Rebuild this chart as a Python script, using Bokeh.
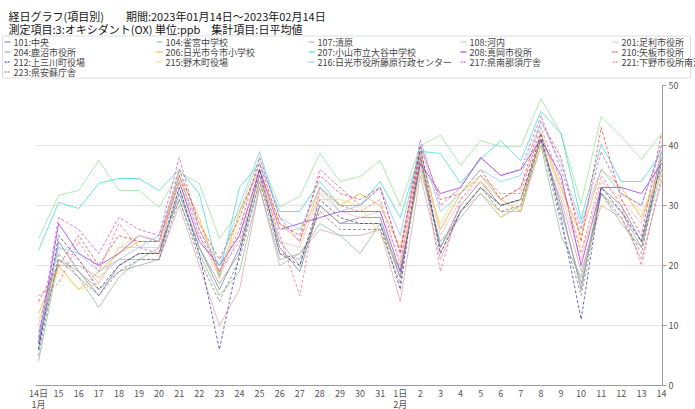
from bokeh.plotting import figure
from bokeh.models import FixedTicker, Range1d
from bokeh.core.properties import value
from bokeh.embed import file_html
from bokeh.resources import INLINE

FONT = "Noto Sans CJK JP"

# ---- data -------------------------------------------------------------
day_labels = ["14日\n1月", "15", "16", "17", "18", "19", "20", "21", "22", "23",
              "24", "25", "26", "27", "28", "29", "30", "31", "1日\n2月", "2",
              "3", "4", "5", "6", "7", "8", "9", "10", "11", "12", "13", "14"]

y_ticks = [0, 10, 20, 30, 40, 50]
grid_ticks = [10, 20, 30, 40]

station_names = ["101:中央", "104:雀宮中学校", "107:清原", "108:河内", "201:足利市役所",
                 "204:鹿沼市役所", "206:日光市今市小学校", "207:小山市立大谷中学校", "208:真岡市役所", "210:矢板市役所",
                 "212:上三川町役場", "215:野木町役場", "216:日光市役所藤原行政センター", "217:県南那須庁舎", "221:下野市役所南河内",
                 "223:県安蘇庁舎"]

s101 = [6, 24, 19, 15, 20, 22, 22, 32, 23, 16, 23, 35, 23, 19, 30, 27, 28, 28, 18, 38, 23, 30, 34, 30, 31, 41, 30, 16, 33, 30, 24, 39]
s104 = [4, 21, 18, 13, 18, 21, 23, 31, 22, 15, 19, 33, 21, 22, 27, 25, 22, 27, 19, 36, 24, 28, 32, 28, 30, 40, 25, 18, 32, 27, 23, 36]
s107 = [9, 20, 20, 18, 21, 21, 21, 30, 20, 10, 16, 33, 20, 22, 26, 25, 25, 26, 14, 35, 21, 29, 32, 29, 29, 40, 31, 19, 30, 28, 21, 34]
s108 = [24.5, 31.7, 32.5, 37.5, 32.5, 32.5, 29.7, 35.5, 33.7, 24.5, 29, 38, 29.8, 31.5, 38.7, 34, 34.8, 37.5, 30, 40, 41.7, 36.7, 40.8, 39.8, 39.8, 47.8, 42, 30.3, 44.8, 41.5, 37.7, 42]
s201 = [10, 23, 21, 17, 23, 23, 23, 34, 25, 18, 25, 36, 24, 23, 32, 29, 28, 29, 21, 39, 25, 31, 34, 31, 33, 42, 32, 21, 34, 31, 27, 39]
s204 = [7, 21, 19, 16, 19, 20, 21, 33, 23, 17, 22, 34, 24, 20, 30, 27, 27, 27, 18, 37, 23, 29, 33, 30, 31, 41, 29, 17, 32, 29, 23, 38]
s206 = [12, 20, 16, 19, 22, 24, 24, 35, 28, 18, 29, 36, 27, 24, 33, 30, 32, 30, 23, 39, 26, 32, 35, 31, 29, 42, 33, 25, 36, 33, 28, 36]
s207 = [22.5, 30.5, 29.5, 33.7, 34.5, 34.5, 32.5, 36, 32, 18.4, 33, 37, 29, 29, 34, 30, 30, 34, 28, 39, 38.7, 33.7, 37.7, 40.8, 37.5, 45.7, 42, 27.7, 40.2, 34, 34, 38.8]
s208 = [7, 27, 22, 20, 22, 25, 24, 34, 24, 20, 25, 36, 26, 27, 28, 29, 29, 29, 19, 37, 32, 33, 38, 35, 36, 41, 35, 20, 33, 33, 32, 37]
s210 = [14, 20, 25, 20, 25, 24, 24, 36, 27, 21, 28, 37, 27, 25, 35, 32, 31, 33, 22, 40, 31, 32, 36, 31, 33, 44, 38, 24, 43, 31, 25, 42]
s212 = [6, 25, 21, 16, 20, 22, 22, 33, 22, 6, 22, 36, 22, 20, 31, 28, 27, 27, 16, 40, 22, 29, 33, 30, 31, 42, 28, 11, 33, 29, 24, 37]
s215 = [11, 19, 16, 17, 23, 25, 24, 34, 27, 19, 27, 34, 26, 26, 31, 31, 30, 25, 20, 36, 27, 33, 34, 28, 31, 40, 33, 23, 30, 32, 29, 35]
s216 = [8, 23, 22, 19, 21, 23, 25, 35, 26, 20, 30, 39, 28, 26, 33, 29, 30, 33, 25, 40, 29, 32, 36, 34, 35, 44, 37, 27, 36, 32, 30, 40]
s217 = [8, 28, 26, 22, 28, 26, 25, 38, 26, 19, 26, 38, 28, 24, 36, 33, 30, 33, 22, 41, 30, 33, 38, 35, 36, 45, 36, 26, 39, 32, 30, 40]
s221 = [15, 17, 24, 19, 27, 23, 22, 35, 25, 19, 24, 35, 25, 15, 33, 30, 29, 31, 20, 39, 19, 31, 35, 32, 32, 43, 34, 22, 35, 30, 20, 35]
s223 = [5, 22, 18, 15, 19, 21, 21, 31, 21, 14, 21, 34, 22, 21, 29, 26, 26, 26, 17, 38, 22, 29, 33, 29, 30, 41, 27, 15, 32, 28, 22, 38]

series_values = [s101, s104, s107, s108, s201, s204, s206, s207, s208, s210,
                 s212, s215, s216, s217, s221, s223]

title_lines = ["経日グラフ(項目別)\u3000\u3000期間:2023年01月14日～2023年02月14日",
               "測定項目:3:オキシダント(OX)  単位:ppb\u3000集計項目:日平均値"]

# ---- styles -----------------------------------------------------------
colors = ["#6b7b8c", "#86b892", "#d99aa8", "#8fe08f", "#f4b6c2",
          "#9a9a9a", "#f5a623", "#2fd9d0", "#8a2be2", "#e8322e",
          "#2a2aa0", "#f0dc70", "#7ec8f0", "#d040d0", "#f06080",
          "#707070"]
dashes = ["solid", "solid", "solid", "solid", "solid",
          "solid", "solid", "solid", "solid", "3 2",
          "3 2", "solid", "solid", "3 2", "3 2",
          "3 2"]

W = 695
HEADER_H = 80

# ---- header (title + legend), pixel-like coordinates --------------------
hdr = figure(frame_width=W, frame_height=HEADER_H,
             x_range=Range1d(0, W), y_range=Range1d(HEADER_H, 0),
             output_backend="svg", toolbar_location=None,
             x_axis_location=None, y_axis_location=None, min_border=0)
hdr.outline_line_color = None
hdr.grid.visible = False
hdr.background_fill_color = "white"
hdr.border_fill_color = "white"

hdr.text(x=[8, 8], y=[15, 28.5], text=title_lines,
         text_font=value(FONT), text_font_size=value("11px"),
         text_color="#151515", text_baseline="middle", text_align="left")

hdr.quad(left=[2], right=[690], top=[35.5], bottom=[77.5],
         fill_color=None, line_color="#dddddd", line_width=1)

NCOL = 5
COLW = 152
for i, (name, c, d) in enumerate(zip(station_names, colors, dashes)):
    col, row = i % NCOL, i // NCOL
    x0 = 4 + COLW * col
    yy = 41.5 + 10 * row
    hdr.segment(x0=[x0], y0=[yy], x1=[x0 + 6], y1=[yy], line_color=c, line_width=1,
                line_dash=d if d == "solid" else "2 1")
    hdr.text(x=[x0 + 9], y=[yy], text=[name], text_font=value(FONT),
             text_font_size=value("9px"), text_color="#444444",
             text_baseline="middle", text_align="left")

# ---- main chart ---------------------------------------------------------
p = figure(frame_width=627, frame_height=300,
           x_range=Range1d(-0.15, 31.05), y_range=Range1d(0, 50),
           output_backend="svg", toolbar_location=None,
           y_axis_location="right",
           min_border_left=35, min_border_top=5, min_border_right=33, min_border_bottom=22)
p.outline_line_color = None
p.background_fill_color = "white"
p.border_fill_color = "white"

x = list(range(len(day_labels)))
for vals, c, d in zip(series_values, colors, dashes):
    p.line(x, vals, line_color=c, line_width=1, line_alpha=0.7, line_dash=d)

p.xgrid.grid_line_color = None
p.ygrid.grid_line_color = "#e6e6e6"
p.ygrid.ticker = FixedTicker(ticks=grid_ticks)

xa = p.xaxis[0]
xa.ticker = FixedTicker(ticks=x)
xa.major_label_overrides = {i: lab for i, lab in enumerate(day_labels)}
xa.axis_line_color = "#9a9a9a"
xa.major_tick_line_color = "#cccccc"
xa.major_tick_out = 1
xa.major_tick_in = 0
xa.minor_tick_line_color = None
xa.major_label_standoff = 0
xa.major_label_text_font = FONT
xa.major_label_text_font_size = "9px"
xa.major_label_text_line_height = 0.85
xa.major_label_text_color = "#555555"

ya = p.yaxis[0]
ya.ticker = FixedTicker(ticks=y_ticks)
ya.axis_line_color = "#9a9a9a"
ya.major_tick_line_color = "#9a9a9a"
ya.major_tick_out = 4
ya.major_tick_in = 0
ya.minor_tick_line_color = None
ya.major_label_standoff = 2
ya.major_label_text_font = FONT
ya.major_label_text_font_size = "9px"
ya.major_label_text_color = "#555555"

open("out.html", "w").write(file_html([hdr, p], INLINE))
